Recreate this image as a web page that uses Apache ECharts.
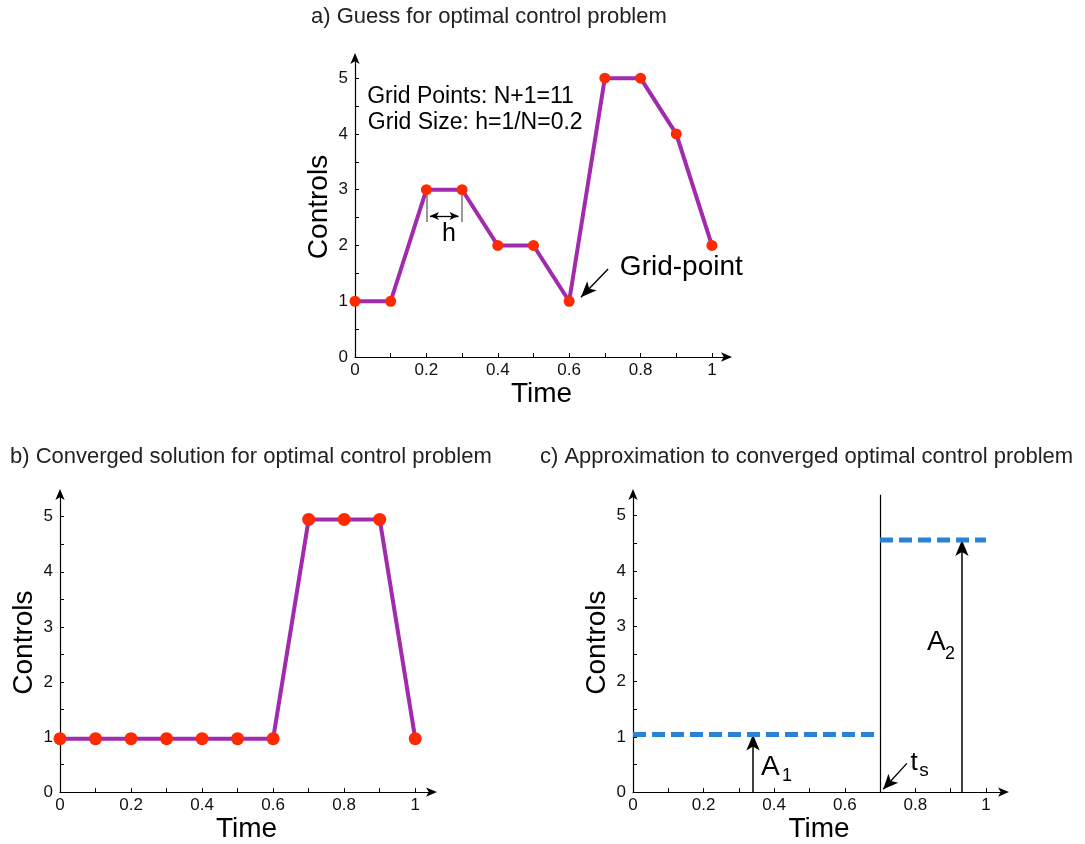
<!DOCTYPE html>
<html><head><meta charset="utf-8">
<script src="https://cdn.jsdelivr.net/npm/echarts@6/dist/echarts.min.js"></script>
<style>html,body{margin:0;padding:0;background:#fff}#c{width:1085px;height:844px}</style>
</head><body><div id="c"></div>
<script>
// ---------- data ----------
const timeGrid = [0, 0.1, 0.2, 0.3, 0.4, 0.5, 0.6, 0.7, 0.8, 0.9, 1];
const guessControls = [1, 1, 3, 3, 2, 2, 1, 5, 5, 4, 2];
const convergedControls = [0.97, 0.97, 0.97, 0.97, 0.97, 0.97, 0.97, 4.95, 4.95, 4.95, 0.97];
const switchTime = 0.7;
const approxLevels = [1.04, 4.56];
const approxSpans = [[0, 0.7], [0.7, 1]];
const xTickLabels = [0, 0.2, 0.4, 0.6, 0.8, 1];
const xTicks = [0, 0.1, 0.2, 0.3, 0.4, 0.5, 0.6, 0.7, 0.8, 0.9, 1];
const yTickLabels = [0, 1, 2, 3, 4, 5];
const yTicks = [0, 0.5, 1, 1.5, 2, 2.5, 3, 3.5, 4, 4.5, 5];
const titles = ['a) Guess for optimal control problem',
                'b) Converged solution for optimal control problem',
                'c) Approximation to converged optimal control problem'];
const gridInfoText = ['Grid Points: N+1=11', 'Grid Size: h=1/N=0.2'];
const gridPointLabel = 'Grid-point';
const stepLabel = 'h';
const areaLabels = [['A', '1'], ['A', '2']];
const switchLabel = ['t', 's'];
const arrowA1X = 0.34, arrowA2X = 0.932;

// ---------- styling ----------
const FONT = "'Liberation Sans', Arial, Helvetica, sans-serif";
const PURPLE = '#A22BAD';
const RED = '#FF2A00';
const BLUE = '#2A82D6';

const grids = [
  {left: 355, top: 57, width: 373, height: 300, xMax: 1.045, yMax: 5.38},
  {left: 60, top: 493, width: 373, height: 301, xMax: 1.05, yMax: 5.43},
  {left: 633, top: 493, width: 372, height: 301, xMax: 1.054, yMax: 5.41}
];

function xAxis(i) {
  return {
    type: 'value', gridIndex: i, min: 0, max: grids[i].xMax,
    name: 'Time', nameLocation: 'middle', nameGap: 21,
    nameTextStyle: {fontFamily: FONT, fontSize: 28, color: '#000'},
    axisLine: {show: true, onZero: false, symbol: ['none', 'arrow'], symbolSize: [7, 11], symbolOffset: [0, 4],
               lineStyle: {color: '#000', width: 1.2}},
    axisTick: {show: true, inside: true, length: 4, customValues: xTicks, lineStyle: {color: '#000'}},
    axisLabel: {show: true, margin: 5, customValues: xTickLabels, fontFamily: FONT, fontSize: 17, color: '#111'},
    splitLine: {show: false}
  };
}
function yAxis(i) {
  return {
    type: 'value', gridIndex: i, min: 0, max: grids[i].yMax,
    name: 'Controls', nameLocation: 'middle', nameGap: 22,
    nameTextStyle: {fontFamily: FONT, fontSize: 28, color: '#000'},
    axisLine: {show: true, onZero: false, symbol: ['none', 'arrow'], symbolSize: [7, 11], symbolOffset: [0, 4],
               lineStyle: {color: '#000', width: 1.2}},
    axisTick: {show: true, inside: true, length: 4, customValues: yTicks, lineStyle: {color: '#000'}},
    axisLabel: {show: true, margin: 7, customValues: yTickLabels, fontFamily: FONT, fontSize: 17, color: '#111'},
    splitLine: {show: false}
  };
}

function textSeries(i, items) {
  return {
    type: 'scatter', xAxisIndex: i, yAxisIndex: i, symbolSize: 0, silent: true, z: 10,
    itemStyle: {opacity: 1},
    label: {show: true, color: '#000', opacity: 1},
    data: items.map(it => ({
      value: [it.x, it.y],
      label: {show: true, position: [0, 0], align: 'left', verticalAlign: 'middle',
               formatter: it.text, fontFamily: FONT, fontSize: it.size, color: '#000', opacity: 1}
    }))
  };
}
function arrowSeries(i, lines, opts) {
  return {
    type: 'line', xAxisIndex: i, yAxisIndex: i, data: [], silent: true, z: 9,
    markLine: {
      silent: true, animation: false,
      symbol: opts.symbol, symbolSize: opts.size,
      label: {show: false},
      lineStyle: {color: opts.color || '#000', width: opts.width || 1.3, type: 'solid'},
      emphasis: {disabled: true},
      data: lines.map(l => [{coord: l[0]}, {coord: l[1]}])
    }
  };
}

const series = [];
// panel a
series.push({
  type: 'line', xAxisIndex: 0, yAxisIndex: 0, clip: false, z: 5,
  data: timeGrid.map((t, k) => [t, guessControls[k]]),
  lineStyle: {color: PURPLE, width: 4}, symbol: 'circle', symbolSize: 11,
  itemStyle: {color: RED}, animation: false
});
// panel b
series.push({
  type: 'line', xAxisIndex: 1, yAxisIndex: 1, clip: false, z: 5,
  data: timeGrid.map((t, k) => [t, convergedControls[k]]),
  lineStyle: {color: PURPLE, width: 4}, symbol: 'circle', symbolSize: 13,
  itemStyle: {color: RED}, animation: false
});
// panel c: dashed approximation levels
approxSpans.forEach((span, k) => {
  series.push({
    type: 'line', xAxisIndex: 2, yAxisIndex: 2, showSymbol: false, z: 5, animation: false,
    data: [[span[0], approxLevels[k]], [span[1], approxLevels[k]]],
    lineStyle: {color: BLUE, width: 5, type: [13, 6]}
  });
});
// switching time vertical line
series.push(arrowSeries(2, [[[switchTime, 0], [switchTime, grids[2].yMax - 0.03]]],
  {symbol: ['none', 'none'], size: 0, width: 1.2}));
// arrows A1, A2
series.push(arrowSeries(2, [
  [[arrowA1X, 0], [arrowA1X, approxLevels[0]]],
  [[arrowA2X, 0], [arrowA2X, approxLevels[1]]]
], {symbol: ['none', 'arrow'], size: [10, 16], width: 1.5}));
// ts arrow
series.push(arrowSeries(2, [[[0.776, 0.52], [0.709, 0.05]]], {symbol: ['none', 'arrow'], size: [10, 15], width: 1.4}));
// grid-point arrow (panel a)
series.push(arrowSeries(0, [[[0.709, 1.58], [0.633, 1.07]]], {symbol: ['none', 'arrow'], size: [10, 16], width: 1.4}));
// h bracket
series.push(arrowSeries(0, [[[0.2, 3], [0.2, 2.42]], [[0.3, 3], [0.3, 2.42]]],
  {symbol: ['none', 'none'], size: 0, width: 1.5, color: '#777'}));
series.push(arrowSeries(0, [[[0.21, 2.53], [0.29, 2.53]]], {symbol: ['arrow', 'arrow'], size: [6, 9], width: 1.3}));

// texts
series.push(textSeries(0, [
  {x: 0.034, y: 4.66, text: gridInfoText[0], size: 23},
  {x: 0.036, y: 4.21, text: gridInfoText[1], size: 23},
  {x: 0.742, y: 1.60, text: gridPointLabel, size: 28},
  {x: 0.244, y: 2.21, text: stepLabel, size: 25}
]));
series.push(textSeries(2, [
  {x: 0.363, y: 0.45, text: areaLabels[0][0], size: 28},
  {x: 0.422, y: 0.29, text: areaLabels[0][1], size: 18},
  {x: 0.833, y: 2.71, text: areaLabels[1][0], size: 28},
  {x: 0.884, y: 2.50, text: areaLabels[1][1], size: 18},
  {x: 0.786, y: 0.53, text: switchLabel[0], size: 26},
  {x: 0.811, y: 0.38, text: switchLabel[1], size: 19}
]));

const chart = echarts.init(document.getElementById('c'), null, {renderer: 'canvas'});
const titleStyle = {fontFamily: FONT, fontSize: 22, fontWeight: 'normal', color: '#222'};
chart.setOption({
  backgroundColor: '#fff',
  animation: false,
  title: [
    {text: titles[0], left: 311, top: 6, padding: 0, textStyle: titleStyle},
    {text: titles[1], left: 10, top: 446, padding: 0, textStyle: titleStyle},
    {text: titles[2], left: 540, top: 446, padding: 0, textStyle: titleStyle}
  ],
  grid: grids.map(g => ({left: g.left, top: g.top, width: g.width, height: g.height, containLabel: false})),
  xAxis: [xAxis(0), xAxis(1), xAxis(2)],
  yAxis: [yAxis(0), yAxis(1), yAxis(2)],
  series: series
});
</script>
</body></html>
